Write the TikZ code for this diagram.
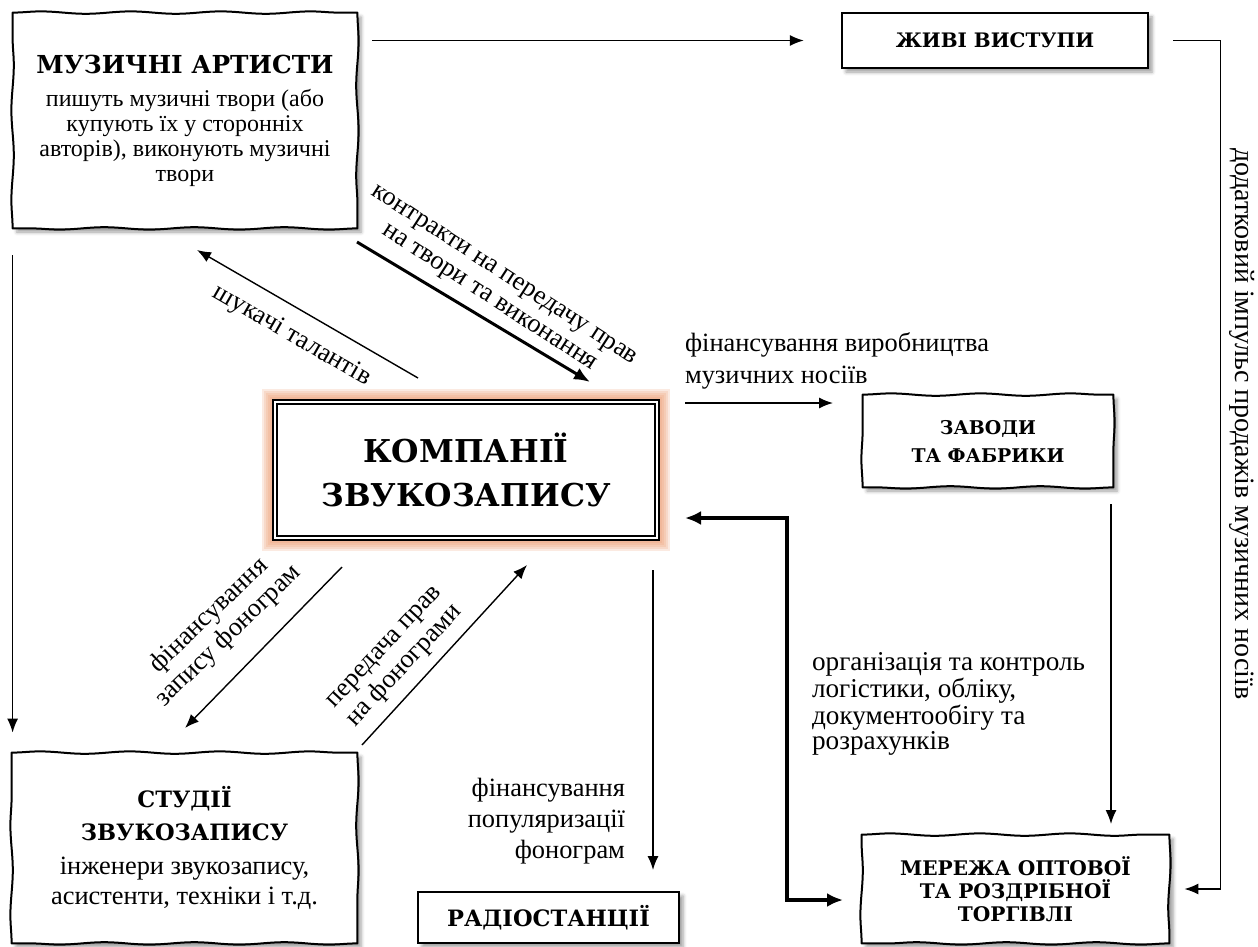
\documentclass[tikz,border=0pt]{standalone}
\usepackage{fontspec}
\setmainfont{Liberation Serif}[BoldFont={DejaVu Serif Bold},BoldFeatures={Scale=0.86}]
\usetikzlibrary{arrows.meta}
\usetikzlibrary{decorations.pathmorphing}
\usetikzlibrary{shadows.blur}
\usetikzlibrary{backgrounds}
\definecolor{glowc}{RGB}{234,150,105}
\newcommand{\hdfont}[1]{\fontsize{#1}{#1}\selectfont\bfseries}
\tikzset{%
  thinarrow/.style = {-{Latex[length=7pt,width=5.5pt]},line width=0.7pt},
  boldarrow/.style = {-{Latex[length=8pt,width=6.5pt]},line width=1.5pt},
  heavyarrow/.style = {{Latex[length=8pt,width=7pt]}-{Latex[length=8pt,width=7pt]},
        line width=2.4pt},
  paperbox/.style = {rectangle,fill=white,align=center,inner sep=0pt,
        blur shadow={shadow xshift=2pt,shadow yshift=-2pt}},
  wavyline/.style = {line width=1pt,line cap=round,
        decoration={snake,segment length=45pt,amplitude=0.6pt}},
  flatbox/.style = {rectangle,draw,line width=1.2pt,fill=white,align=center,
        inner sep=0pt,blur shadow={shadow xshift=2pt,shadow yshift=-2pt}},
  compbox/.style = {rectangle,draw,double,double distance=1.2pt,line width=0.8pt,
        fill=white,align=center,inner sep=0pt},
  glow/.style = {draw=glowc,opacity=0.2},
  lbl/.style = {font=\fontsize{13.2}{14}\selectfont}
}

\begin{document}
\begin{tikzpicture}[x=0.5pt,y=-0.5pt]
\useasboundingbox (0,0) rectangle (1258,947);

% boxes
\node[paperbox,minimum width=172pt,minimum height=107.5pt,
      font=\fontsize{12}{12.5}\selectfont] (art) at (185,120.5)
      {{\hdfont{14.4}МУЗИЧНІ АРТИСТИ}\\[4pt]
       пишуть музичні твори (або\\ купують їх у сторонніх\\
       авторів), виконують музичні\\ твори};
\node[flatbox,minimum width=153pt,minimum height=27.5pt] (live) at (995,40.5)
      {\hdfont{11.6}ЖИВІ ВИСТУПИ};
\node[compbox,minimum width=191pt,minimum height=68pt,
      font=\fontsize{18.3}{22}\selectfont\bfseries] (comp) at (466,470)
      {КОМПАНІЇ\\ЗВУКОЗАПИСУ};
\node[paperbox,minimum width=125pt,minimum height=46pt,
      font=\fontsize{11}{14}\selectfont\bfseries] (fac) at (988,441)
      {ЗАВОДИ\\ТА ФАБРИКИ};
\node[paperbox,minimum width=172.5pt,minimum height=95pt,
      font=\fontsize{13.2}{15}\selectfont] (stu) at (184.5,848)
      {{\hdfont{13.1}СТУДІЇ}\\[1.5pt]{\hdfont{13.1}ЗВУКОЗАПИСУ}\\[2pt]
       інженери звукозапису,\\ асистенти, техніки і т.д.};
\node[flatbox,minimum width=130.5pt,minimum height=25.5pt] (rad) at (548.5,917.5)
      {\hdfont{13.1}РАДІОСТАНЦІЇ};
\node[paperbox,minimum width=153.5pt,minimum height=54pt,
      font=\fontsize{11.7}{11.6}\selectfont\bfseries] (ret) at (1015.5,889)
      {МЕРЕЖА ОПТОВОЇ\\ТА РОЗДРІБНОЇ\\ТОРГІВЛІ};

% hand drawn borders
\foreach \b in {art,fac,stu,ret}
  \draw[wavyline] decorate{(\b.north west) -- (\b.north east)}
                  decorate{(\b.north east) -- (\b.south east)}
                  decorate{(\b.south east) -- (\b.south west)}
                  decorate{(\b.south west) -- (\b.north west)};

% glow round the central box
\begin{scope}[on background layer]
  \foreach \g in {2,4,...,12}
    \draw[glow,line width=\g pt] (comp.south west) rectangle (comp.north east);
\end{scope}

% free ends of the connectors
\coordinate (scoutA) at (418,378);  \coordinate (scoutB) at (197,250);
\coordinate (contA) at (357,242);   \coordinate (contB) at (590,382);
\coordinate (recA) at (342,567);    \coordinate (recB) at (185,728);
\coordinate (rightsA) at (362,745); \coordinate (rightsB) at (527,565);
\coordinate (popA) at (653,570);    \coordinate (popB) at (653,870);
\coordinate (prodA) at (685,403);   \coordinate (prodB) at (833,403);
\coordinate (logA) at (685,518);    \coordinate (logB) at (843,900);
\coordinate (facA) at (1111,504);   \coordinate (facB) at (1111,824);

% connectors
\draw[thinarrow,shorten <=7.5pt,shorten >=18.5pt] (art.east |- live.west) -- (live.west);
\draw[thinarrow,shorten <=12pt,shorten >=7.5pt] (live.east) -- ++(71,0) |- (ret.east);
\draw[thinarrow,shorten <=13.5pt,shorten >=10pt] (art.south west) -- (art.south west |- stu.north);
\draw[thinarrow] (scoutA) -- (scoutB);
\draw[boldarrow] (contA) -- (contB);
\draw[thinarrow] (recA) -- (recB);
\draw[thinarrow] (rightsA) -- (rightsB);
\draw[thinarrow] (popA) -- (popB);
\draw[thinarrow] (prodA) -- (prodB);
\draw[heavyarrow] (logA) -| ++(102,0) |- (logB);
\draw[thinarrow] (facA) -- (facB);

% labels
\node[lbl,align=center,rotate=-33,font=\fontsize{13.2}{13.5}\selectfont] (contL)
      at (496,288) {контракти на передачу прав\\ на твори та виконання};
\node[lbl,rotate=-30] (scoutL) at (292,336) {шукачі талантів};
\node[lbl,align=center,rotate=44] (recL) at (219,626)
      {фінансування\\ запису фонограм};
\node[lbl,align=center,rotate=47] (rightsL) at (396,658)
      {передача прав\\ на фонограми};
\node[lbl,align=left,anchor=west,font=\fontsize{13.2}{16}\selectfont] (prodL)
      at (678,361) {фінансування виробництва\\ музичних носіїв};
\node[lbl,align=right,anchor=east,font=\fontsize{13.2}{15.5}\selectfont] (popL)
      at (632,821) {фінансування\\ популяризації\\ фонограм};
\node[lbl,align=left,anchor=west,font=\fontsize{13.6}{12.5}\selectfont] (logL)
      at (805,704) {організація та контроль\\ логістики, обліку,\\
       документообігу та\\ розрахунків};
\node[lbl,rotate=-90,anchor=west,font=\fontsize{14}{14}\selectfont] (bonusL)
      at (1242,141) {додатковий імпульс продажів музичних носіїв};
\end{tikzpicture}
\end{document}
